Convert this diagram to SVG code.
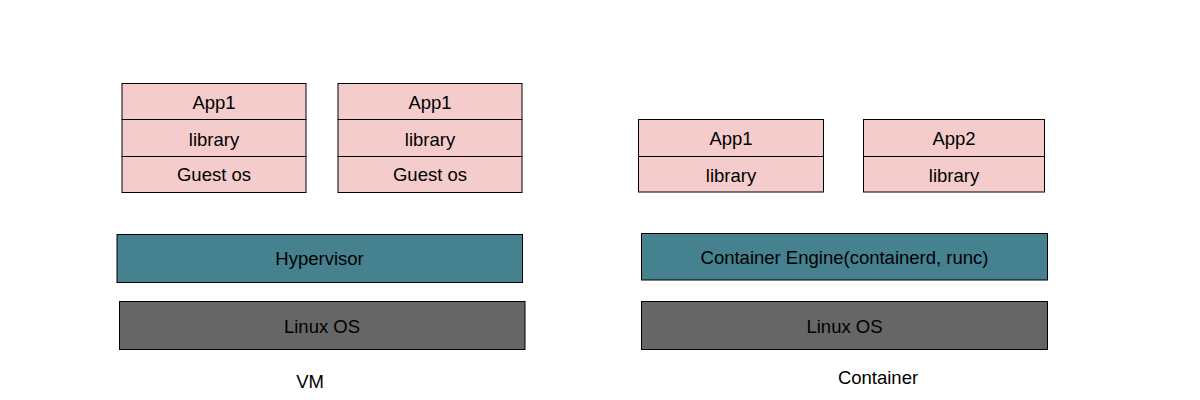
<svg xmlns="http://www.w3.org/2000/svg" width="1200" height="400" viewBox="0 0 1200 400">
<style>
rect { stroke: #000; stroke-width: 1; }
.app { fill: #f4cccc; }
.eng { fill: #45818e; }
.os { fill: #666666; }
text { font-family: "Liberation Sans", Arial, sans-serif; font-size: 18.5px; fill: #000; text-anchor: middle; }
</style>
<rect x="0" y="0" width="1200" height="400" fill="#fff" style="stroke:none"/>
<g id="vm1">
  <g id="vm1-app"><rect class="app" x="122" y="83.5" width="184" height="36"/><text x="214" y="109">App1</text></g>
  <g id="vm1-lib"><rect class="app" x="122" y="119.5" width="184" height="37"/><text x="214" y="145.5">library</text></g>
  <g id="vm1-guest"><rect class="app" x="122" y="156.5" width="184" height="36"/><text x="214" y="181">Guest os</text></g>
</g>
<g id="vm2">
  <g id="vm2-app"><rect class="app" x="338" y="83.5" width="184" height="36"/><text x="430" y="109">App1</text></g>
  <g id="vm2-lib"><rect class="app" x="338" y="119.5" width="184" height="37"/><text x="430" y="145.5">library</text></g>
  <g id="vm2-guest"><rect class="app" x="338" y="156.5" width="184" height="36"/><text x="430" y="181">Guest os</text></g>
</g>
<g id="hypervisor"><rect class="eng" x="117" y="234.5" width="405.5" height="48"/><text x="319.5" y="265">Hypervisor</text></g>
<g id="linux-vm"><rect class="os" x="119.5" y="301.5" width="405.5" height="48"/><text x="322" y="332.5">Linux OS</text></g>
<g id="label-vm"><text x="310" y="387.5">VM</text></g>
<g id="c1">
  <g id="c1-app"><rect class="app" x="638.5" y="119.5" width="185" height="37"/><text x="731" y="145">App1</text></g>
  <g id="c1-lib"><rect class="app" x="638.5" y="156.5" width="185" height="35.5"/><text x="731" y="181.5">library</text></g>
</g>
<g id="c2">
  <g id="c2-app"><rect class="app" x="863.5" y="119.5" width="181" height="37"/><text x="954" y="145">App2</text></g>
  <g id="c2-lib"><rect class="app" x="863.5" y="156.5" width="181" height="35.5"/><text x="954" y="181.5">library</text></g>
</g>
<g id="engine"><rect class="eng" x="641.5" y="233.5" width="406" height="46.5"/><text x="844.5" y="264">Container Engine(containerd, runc)</text></g>
<g id="linux-c"><rect class="os" x="641.5" y="301.5" width="406" height="48"/><text x="844.5" y="332.5">Linux OS</text></g>
<g id="label-container"><text x="878" y="384">Container</text></g>
<g id="connectors"></g>
</svg>
